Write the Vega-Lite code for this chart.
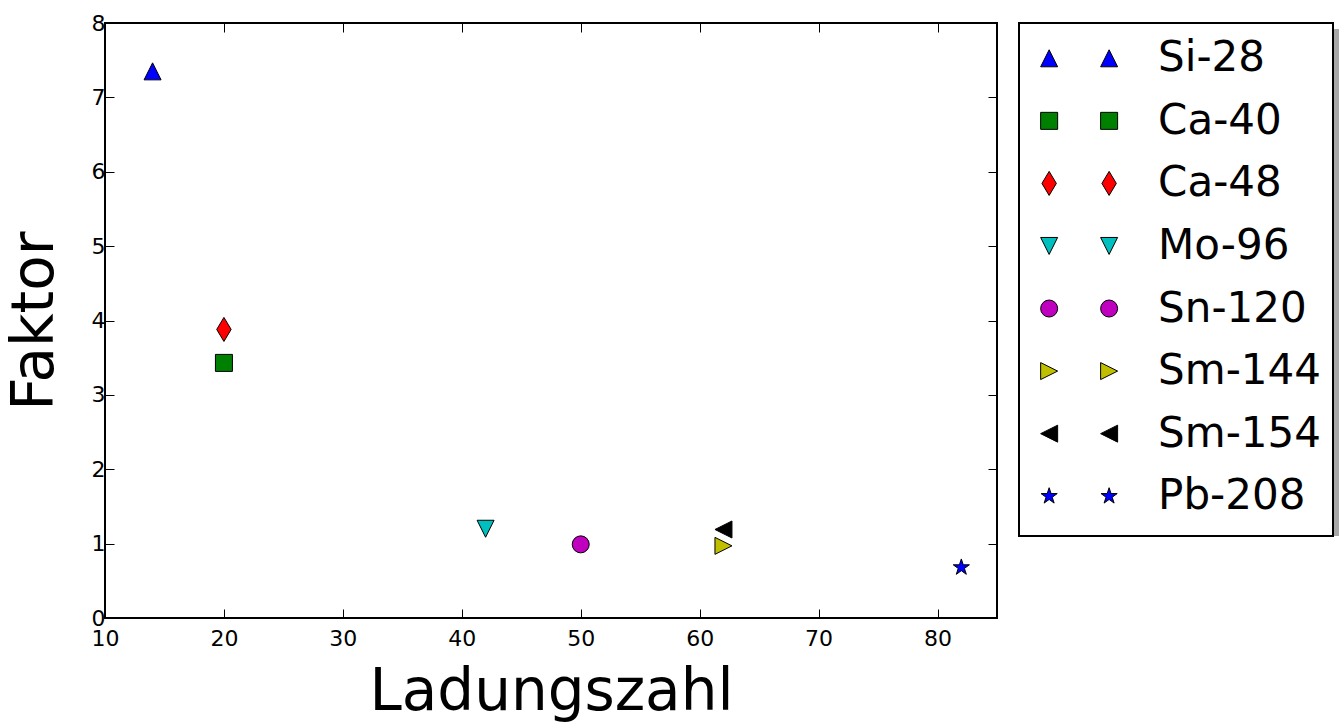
{
  "$schema": "https://vega.github.io/schema/vega-lite/v6.json",
  "background": "white",
  "padding": {"left": 5, "top": 11, "right": 0, "bottom": 0},
  "spacing": 19,
  "config": {
    "font": "DejaVu Sans",
    "view": {"stroke": null},
    "axis": {
      "grid": false,
      "domain": false,
      "ticks": true,
      "tickColor": "black",
      "tickWidth": 1,
      "tickSize": -9,
      "labelColor": "black",
      "labelFont": "DejaVu Sans",
      "labelFontSize": 22,
      "labelFlush": false,
      "labelBound": false,
      "labelOverlap": false,
      "titleColor": "black",
      "titleFont": "DejaVu Sans",
      "titleFontSize": 58,
      "titleFontWeight": "normal"
    }
  },
  "datasets": {
    "nuclei": [
      {"isotope": "Si-28", "Z": 14, "faktor": 7.35},
      {"isotope": "Ca-40", "Z": 20, "faktor": 3.43},
      {"isotope": "Ca-48", "Z": 20, "faktor": 3.88},
      {"isotope": "Mo-96", "Z": 42, "faktor": 1.20},
      {"isotope": "Sn-120", "Z": 50, "faktor": 0.99},
      {"isotope": "Sm-144", "Z": 62, "faktor": 0.97},
      {"isotope": "Sm-154", "Z": 62, "faktor": 1.19},
      {"isotope": "Pb-208", "Z": 82, "faktor": 0.68}
    ]
  },
  "hconcat": [
    {
      "width": 892,
      "height": 595,
      "view": {"stroke": "black", "strokeWidth": 2},
      "data": {"name": "nuclei"},
      "layer": [
        {
          "mark": {"type": "point", "filled": true, "opacity": 1, "stroke": "black", "strokeWidth": 1, "size": 289},
          "encoding": {
            "x": {
              "field": "Z", "type": "quantitative",
              "scale": {"domain": [10, 85], "nice": false, "zero": false},
              "axis": {"orient": "bottom", "values": [10, 20, 30, 40, 50, 60, 70, 80], "labelPadding": 19, "title": "Ladungszahl", "titlePadding": 14}
            },
            "y": {
              "field": "faktor", "type": "quantitative",
              "scale": {"domain": [0, 8], "nice": false},
              "axis": {"orient": "left", "values": [0, 1, 2, 3, 4, 5, 6, 7, 8], "labelPadding": 9, "title": "Faktor", "titlePadding": 27}
            },
            "fill": {
              "field": "isotope", "type": "nominal", "legend": null,
              "scale": {
                "domain": ["Si-28", "Ca-40", "Ca-48", "Mo-96", "Sn-120", "Sm-144", "Sm-154", "Pb-208"],
                "range": ["#0000ff", "#008000", "#ff0000", "#00bfbf", "#bf00bf", "#bfbf00", "#000000", "#0000ff"]
              }
            },
            "shape": {
              "field": "isotope", "type": "nominal", "legend": null,
              "scale": {
                "domain": ["Si-28", "Ca-40", "Ca-48", "Mo-96", "Sn-120", "Sm-144", "Sm-154", "Pb-208"],
                "range": [
                  "M0,-1L1,1L-1,1Z",
                  "M-1,-1L1,-1L1,1L-1,1Z",
                  "M0,-1.414L0.849,0L0,1.414L-0.849,0Z",
                  "M0,1L-1,-1L1,-1Z",
                  "circle",
                  "M1,0L-1,-1L-1,1Z",
                  "M-1,0L1,-1L1,1Z",
                  "M0,-1L0.2245,-0.309L0.951,-0.309L0.363,0.118L0.588,0.809L0,0.382L-0.588,0.809L-0.363,0.118L-0.951,-0.309L-0.2245,-0.309Z"
                ]
              }
            }
          }
        },
        {
          "mark": {"type": "point", "opacity": 0},
          "encoding": {
            "x": {
              "field": "Z", "type": "quantitative",
              "axis": {"orient": "top", "values": [10, 20, 30, 40, 50, 60, 70, 80], "labels": false, "title": null}
            },
            "y": {
              "field": "faktor", "type": "quantitative",
              "axis": {"orient": "right", "values": [0, 1, 2, 3, 4, 5, 6, 7, 8], "labels": false, "title": null}
            }
          }
        }
      ],
      "resolve": {"axis": {"x": "independent", "y": "independent"}}
    },
    {
      "width": 314,
      "height": 513,
      "view": {"stroke": null},
      "layer": [
        {
          "data": {"values": [{"frame": "shadow"}]},
          "mark": {"type": "rect", "fill": "#a8a8a8", "xOffset": 6, "x2Offset": 6, "yOffset": 6, "y2Offset": 6},
          "encoding": {}
        },
        {
          "data": {"values": [{"frame": "box"}]},
          "mark": {"type": "rect", "fill": "white", "stroke": "black", "strokeWidth": 2},
          "encoding": {}
        },
        {
          "data": {"name": "nuclei"},
          "encoding": {
            "y": {
              "field": "isotope", "type": "nominal", "sort": null, "axis": null,
              "scale": {"type": "point", "padding": 0.6, "align": 0.47}
            }
          },
          "layer": [
            {
              "mark": {"type": "point", "filled": true, "opacity": 1, "stroke": "black", "strokeWidth": 1, "size": 289},
              "encoding": {
                "x": {"datum": 0.96, "type": "quantitative", "scale": {"domain": [0, 10], "nice": false, "zero": false}, "axis": null},
                "fill": {"field": "isotope", "type": "nominal", "legend": null},
                "shape": {"field": "isotope", "type": "nominal", "legend": null}
              }
            },
            {
              "mark": {"type": "point", "filled": true, "opacity": 1, "stroke": "black", "strokeWidth": 1, "size": 289},
              "encoding": {
                "x": {"datum": 2.87},
                "fill": {"field": "isotope", "type": "nominal", "legend": null},
                "shape": {"field": "isotope", "type": "nominal", "legend": null}
              }
            },
            {
              "mark": {"type": "text", "align": "left", "baseline": "middle", "fontSize": 42, "font": "DejaVu Sans", "color": "black"},
              "encoding": {
                "x": {"datum": 4.43},
                "text": {"field": "isotope"}
              }
            }
          ]
        }
      ]
    }
  ],
  "resolve": {"scale": {"fill": "shared", "shape": "shared"}}
}
